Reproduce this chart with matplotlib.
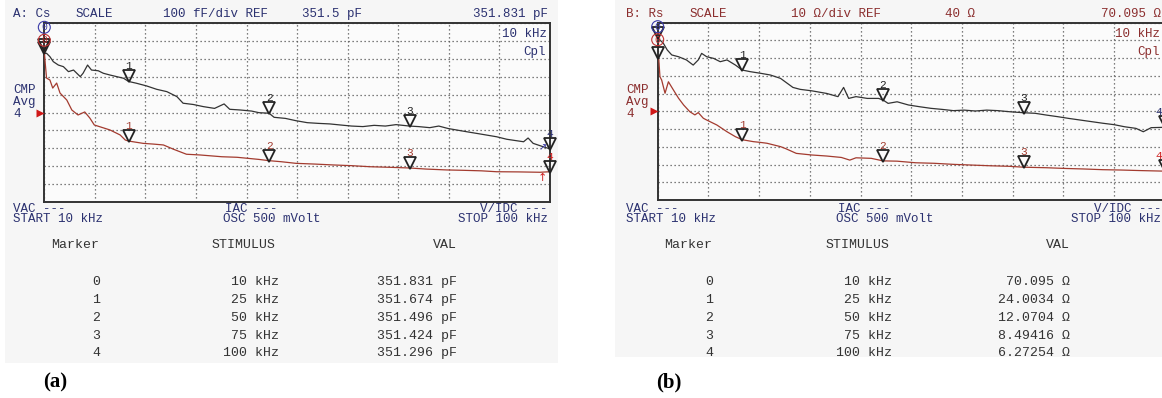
import numpy as np
import matplotlib.pyplot as plt
from matplotlib.patches import Rectangle
from matplotlib.transforms import offset_copy

W, H = 1162, 398

# marker table (both screens)
marker_no = [0, 1, 2, 3, 4]
marker_khz = [10, 25, 50, 75, 100]
cs_txt = ["351.831 pF", "351.674 pF", "351.496 pF", "351.424 pF", "351.296 pF"]
rs_txt = ["70.095 \u03a9", "24.0034 \u03a9", "12.0704 \u03a9", "8.49416 \u03a9", "6.27254 \u03a9"]
stim_txt = ["10 kHz", "25 kHz", "50 kHz", "75 kHz", "100 kHz"]

# screen A traces (display units pF)
a_black_khz = [10.0, 10.4, 11.0, 11.6, 12.5, 13.4, 14.3, 15.2, 16.4, 16.9, 17.7, 18.4, 19.6, 20.5, 21.7,
               22.9, 24.1, 25.0, 26.4, 28.2, 30.0, 31.8, 33.6, 34.7, 36.5, 38.3, 40.3, 42.0, 43.0, 44.9,
               46.9, 48.2, 50.0, 50.9, 52.9, 54.8, 56.8, 58.8, 60.8, 62.7, 64.7, 66.7, 68.7, 70.7, 72.6,
               75.0, 76.6, 78.6, 80.2, 81.9, 85.2, 87.5, 90.5, 92.3, 95.3, 96.1, 97.0, 98.8, 100.0]
a_black_pf = [351.831, 351.832, 351.813, 351.785, 351.766, 351.757, 351.729, 351.738, 351.701, 351.720,
              351.766, 351.738, 351.734, 351.720, 351.710, 351.701, 351.692, 351.674, 351.664, 351.649,
              351.630, 351.617, 351.589, 351.552, 351.545, 351.533, 351.523, 351.548, 351.518, 351.514,
              351.508, 351.499, 351.496, 351.473, 351.467, 351.454, 351.443, 351.439, 351.436, 351.430,
              351.424, 351.421, 351.428, 351.424, 351.432, 351.424, 351.421, 351.415, 351.424, 351.410,
              351.392, 351.380, 351.364, 351.350, 351.336, 351.357, 351.327, 351.308, 351.296]
a_red_khz = [10.0, 10.1, 10.4, 11.0, 11.5, 12.2, 12.8, 14.0, 14.9, 16.0, 17.2, 18.1, 18.9, 19.9, 21.7,
             23.5, 24.4, 25.0, 25.8, 27.6, 29.4, 31.2, 33.0, 35.3, 37.7, 41.6, 44.3, 48.2, 50.0, 52.2,
             54.8, 58.1, 61.4, 64.7, 68.0, 71.3, 75.0, 77.9, 81.6, 84.5, 87.8, 90.5, 94.4, 98.2, 100.0]
a_red_pf = [351.850, 351.800, 351.693, 351.682, 351.637, 351.665, 351.609, 351.570, 351.514, 351.486,
            351.503, 351.469, 351.430, 351.420, 351.402, 351.374, 351.346, 351.340, 351.336, 351.327,
            351.323, 351.318, 351.294, 351.266, 351.262, 351.252, 351.249, 351.237, 351.230, 351.224,
            351.215, 351.211, 351.206, 351.202, 351.196, 351.193, 351.189, 351.183, 351.178, 351.176,
            351.173, 351.168, 351.167, 351.165, 351.168]

# screen B traces (display units ohm)
b_black_khz = [10.0, 10.4, 11.0, 11.7, 12.5, 13.7, 15.1, 16.3, 17.2, 17.8, 18.7, 19.9, 21.1, 22.3, 23.8,
               25.0, 26.4, 28.2, 30.0, 31.8, 34.0, 35.3, 37.3, 40.0, 42.0, 43.0, 43.9, 45.2, 47.2, 49.2,
               50.0, 50.9, 52.5, 54.5, 56.5, 58.5, 60.5, 62.5, 64.4, 66.4, 68.4, 70.4, 72.4, 75.0, 77.0,
               79.0, 81.0, 83.0, 85.0, 87.0, 89.0, 91.0, 92.9, 94.9, 96.2, 97.6, 100.0]
b_black_ohm = [81.5, 80.2, 78.4, 74.6, 71.8, 70.8, 69.0, 66.1, 69.0, 72.7, 70.8, 69.9, 68.0, 69.0, 66.1,
               63.3, 62.4, 61.5, 60.5, 58.6, 53.5, 52.4, 51.6, 50.1, 48.3, 53.5, 47.3, 48.3, 47.3, 47.3,
               46.4, 44.5, 45.4, 43.6, 42.6, 41.7, 41.1, 40.4, 40.7, 40.2, 40.7, 40.4, 39.8, 39.2, 38.9,
               37.9, 37.0, 36.0, 35.1, 34.2, 33.3, 32.5, 31.3, 30.4, 28.5, 30.8, 31.0]
b_red_khz = [10.0, 10.2, 10.4, 10.7, 11.3, 11.9, 12.8, 13.7, 14.6, 15.7, 16.6, 17.2, 18.1, 18.7, 20.5,
             22.3, 23.8, 25.0, 27.0, 28.2, 29.4, 31.8, 32.7, 34.6, 37.3, 40.0, 42.6, 44.1, 45.2, 47.9,
             50.0, 52.5, 55.8, 59.1, 62.5, 65.8, 69.1, 72.4, 75.0, 79.0, 82.3, 85.6, 89.0, 92.3, 95.6, 100.0]
b_red_ohm = [70.095, 69.0, 59.5, 57.7, 50.2, 56.7, 52.0, 47.4, 43.6, 39.8, 38.0, 39.3, 36.1, 35.1, 32.3,
             28.5, 25.7, 24.0034, 22.9, 22.5, 22.0, 20.1, 19.0, 16.3, 15.4, 14.8, 14.0, 12.5, 13.8, 13.5,
             12.0704, 11.9, 11.0, 10.7, 10.1, 9.7, 9.3, 9.0, 8.49416, 8.2, 7.8, 7.5, 7.1, 6.9, 6.6, 6.27254]

NAVY = '#2b3170'
MAROON = '#8b2e2e'
TRACE_RED = '#a33b2f'
MONO = 'Liberation Mono'

fig = plt.figure(figsize=(W / 100, H / 100), dpi=100)
fig.patch.set_facecolor('white')

bg = fig.add_axes([0, 0, 1, 1], zorder=0)
fg = fig.add_axes([0, 0, 1, 1], zorder=3)
for a in (bg, fg):
    a.set_xlim(0, W)
    a.set_ylim(H, 0)
    a.axis('off')
fg.patch.set_alpha(0)

panels = [
    dict(dx=0, box=(44.3, 23.3, 550.0, 201.7), top=352.0, div=0.1, head=NAVY,
         name="A: Cs", scale="100 fF/div REF", ref="351.5 pF", val="351.831 pF",
         black=(a_black_khz, a_black_pf), red=(a_red_khz, a_red_pf), vals=cs_txt, tag="(a)",
         screen=(5, 0, 553, 363), lab4_dx=0),
    dict(dx=613.4, box=(657.7, 22.7, 1164.7, 200.0), top=90.0, div=10.0, head=MAROON,
         name="B: Rs", scale="10 \u03a9/div REF", ref="40 \u03a9", val="70.095 \u03a9",
         black=(b_black_khz, b_black_ohm), red=(b_red_khz, b_red_ohm), vals=rs_txt, tag="(b)",
         screen=(615, 0, 560, 357), lab4_dx=-6),
]

for p in panels:
    dx = p['dx']
    sx, sy, sw, sh = p['screen']
    bg.add_patch(Rectangle((sx, sy), sw, sh, fc='#f6f6f6', ec='none'))

    l, t, r, b = p['box']
    ax = fig.add_axes([l / W, 1 - b / H, (r - l) / W, (b - t) / H], zorder=2)
    ax.set_facecolor('#fbfbfb')
    ax.set_xlim(10, 100)
    ax.set_ylim(p['top'] - 10 * p['div'], p['top'])
    ax.set_xticks(np.linspace(10, 100, 11))
    ax.set_yticks(np.linspace(p['top'] - 10 * p['div'], p['top'], 11))
    ax.tick_params(length=0, labelbottom=False, labelleft=False)
    ax.grid(True, ls=(0, (1, 2.2)), color='#555555', lw=0.9)
    for s in ax.spines.values():
        s.set_color('#333333')
        s.set_linewidth(1.4)

    bf, bv = p['black']
    rf, rv = p['red']
    ax.plot(bf, bv, color='#333333', lw=0.9, zorder=3)
    ax.plot(rf, rv, color=TRACE_RED, lw=0.9, zorder=3)

    tri = offset_copy(ax.transData, fig=fig, x=0, y=5, units='dots')
    lab = offset_copy(ax.transData, fig=fig, x=0, y=15, units='dots')
    lab4 = offset_copy(ax.transData, fig=fig, x=p['lab4_dx'], y=15, units='dots')
    for lab_c, fx, fy in (('#222222', bf, bv), (TRACE_RED, rf, rv)):
        my = np.interp(marker_khz, fx, fy)
        ax.plot(marker_khz, my, ls='none', marker='v', ms=9, mfc='none', mec='#222222', mew=1.3,
                transform=tri, clip_on=False, zorder=4)
        for n, f0, y0 in zip(marker_no, marker_khz, my):
            if n == 0:
                continue
            c = lab_c
            tr = lab
            if n == 4:
                c = NAVY if lab_c == '#222222' else '#d02020'
                tr = lab4
            ax.text(f0, y0, str(n), transform=tr, ha='center', va='center', fontsize=8,
                    family=MONO, color=c, clip_on=False, zorder=5)

    # marker 0 labels at start of the sweep
    fg.text(l, t + 4, "0", ha='center', va='center', fontsize=7, family=MONO, color='#3a3aa8',
            bbox=dict(boxstyle='circle,pad=0.1', fc='none', ec='#3a3aa8', lw=0.8))
    fg.text(l, t + 17, "0", ha='center', va='center', fontsize=7, family=MONO, color='#c03030',
            bbox=dict(boxstyle='circle,pad=0.1', fc='none', ec='#c03030', lw=0.8))

    hc = p['head']
    fg.text(13 + dx, 14, p['name'], ha='left', va='center', fontsize=9, family=MONO, color=hc)
    fg.text(76 + dx, 14, "SCALE", ha='left', va='center', fontsize=9, family=MONO, color=hc)
    fg.text(268 + dx, 14, p['scale'], ha='right', va='center', fontsize=9, family=MONO, color=hc)
    fg.text(362 + dx, 14, p['ref'], ha='right', va='center', fontsize=9, family=MONO, color=hc)
    fg.text(548 + dx, 14, p['val'], ha='right', va='center', fontsize=9, family=MONO, color=hc)
    fg.text(547 + dx, 34, "10 kHz", ha='right', va='center', fontsize=9, family=MONO, color=hc)
    fg.text(546 + dx, 52, "Cpl", ha='right', va='center', fontsize=9, family=MONO, color=hc)
    for yy, s in ((90, "CMP"), (102, "Avg"), (114, "4")):
        fg.text(13 + dx, yy, s, ha='left', va='center', fontsize=9, family=MONO, color=hc)
    fg.plot([l - 4], [(t + b) / 2], marker='>', ms=6, color='#d01818', mec='none')

    fg.text(13 + dx, 209, "VAC ---", ha='left', va='center', fontsize=9, family=MONO, color=NAVY)
    fg.text(13 + dx, 219, "START 10 kHz", ha='left', va='center', fontsize=9, family=MONO, color=NAVY)
    fg.text(225 + dx, 209, "IAC ---", ha='left', va='center', fontsize=9, family=MONO, color=NAVY)
    fg.text(223 + dx, 219, "OSC 500 mVolt", ha='left', va='center', fontsize=9, family=MONO, color=NAVY)
    fg.text(548 + dx, 209, "V/IDC ---", ha='right', va='center', fontsize=9, family=MONO, color=NAVY)
    fg.text(548 + dx, 219, "STOP 100 kHz", ha='right', va='center', fontsize=9, family=MONO, color=NAVY)

    # table under the screen
    fg.text(75 + dx, 245, "Marker", ha='center', va='center', fontsize=9.5, family=MONO, color='#333333')
    fg.text(244 + dx, 245, "STIMULUS", ha='center', va='center', fontsize=9.5, family=MONO, color='#333333')
    fg.text(457 + dx, 245, "VAL", ha='right', va='center', fontsize=9.5, family=MONO, color='#333333')
    for yy, n, st, vt in zip([282, 300, 318, 336, 353], marker_no, stim_txt, p['vals']):
        fg.text(100 + dx, yy, str(n), ha='right', va='center', fontsize=9.5, family=MONO, color='#333333')
        fg.text(279 + dx, yy, st, ha='right', va='center', fontsize=9.5, family=MONO, color='#333333')
        fg.text(457 + dx, yy, vt, ha='right', va='center', fontsize=9.5, family=MONO, color='#333333')

    fg.text(55 + dx, 382, p['tag'], ha='center', va='center', fontsize=15, family='Liberation Serif',
            weight='bold', color='black')

# small extra symbols at the right end of screen A
fg.text(543, 147, "\u2197", ha='center', va='center', fontsize=7, color='#3a3aa8')
fg.text(542, 178, "\u2191", ha='center', va='center', fontsize=8, color='#d02020')

fig.savefig('out.png', dpi=100)
